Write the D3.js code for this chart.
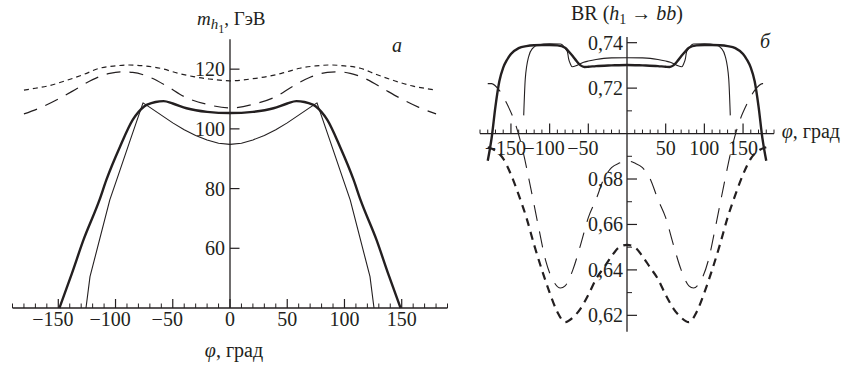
<!DOCTYPE html>
<html><head><meta charset="utf-8">
<script src="https://cdn.jsdelivr.net/npm/d3@7/dist/d3.min.js"></script>
<style>
body{margin:0;background:#fff}
svg{display:block}
text{fill:#231f20}
</style>
</head><body>
<svg id="chart" width="842" height="367" font-family="'Liberation Serif', Tinos, 'Times New Roman', Times, serif"></svg>
<script>
// ---------- data ----------
const phiTicksLeft = [-150,-100,-50,0,50,100,150];
const phiTicksRight = [-150,-100,-50,50,100,150];
const massTicks = [60,80,100,120];
const brTicks = [0.62,0.64,0.66,0.68,0.72,0.74];
const brMinorTicks = [0.63,0.65,0.67,0.69,0.71,0.73];

// panel a: m_h1 (GeV) vs phi
const massShortPhi = [-180,-170,-160,-143,-128,-114,-100,-88,-75,-61,-45,-32,-20,0,20,32,45,61,75,88,100,114,128,143,160,170,180];
const massShortVal = [113.0,113.6,114.3,116.2,118.2,120.3,121.1,121.4,121.1,120.3,118.6,117.5,116.8,116.1,116.8,117.5,118.6,120.3,121.1,121.4,121.1,120.3,118.2,116.2,114.3,113.6,113.0];

const massLongPhi = [-180,-165,-150,-135,-120,-105,-95,-85,-70,-55,-40,-20,0,20,40,55,70,85,95,105,120,135,150,165,180];
const massLongVal = [105.0,107.2,110.0,113.2,116.5,118.6,119.1,118.9,117.3,114.3,110.8,108.2,107.0,108.2,110.8,114.3,117.3,118.9,119.1,118.6,116.5,113.2,110.0,107.2,105.0];

const massThickPhi = [-149,-138,-128,-114,-108,-96,-85,-75,-65,-58,-50,-38,-20,0,20,38,50,58,65,75,85,96,108,114,128,138,149];
const massThickVal = [40,51.7,62.8,76.2,82.9,94.1,103.0,107.5,109.0,109.3,108.5,106.9,105.7,105.3,105.7,106.9,108.5,109.3,109.0,107.5,103.0,94.1,82.9,76.2,62.8,51.7,40];

const massThinPhi = [-125.8,-122.3,-105,-99,-88,-76,-70,-60,-50,-40,-30,-20,-10,0,10,20,30,40,50,60,70,76,88,99,105,122.3,125.8];
const massThinVal = [40,50.5,76.2,82.9,95.3,108.7,107.2,104.6,102.0,99.7,97.8,96.3,95.2,94.8,95.2,96.3,97.8,99.7,102.0,104.6,107.2,108.7,95.3,82.9,76.2,50.5,40];

// panel b: BR(h1 -> bb) vs phi
const brThickPhi = [-180,-175,-170,-165,-160,-155,-150,-140,-130,-120,-110,-100,-90,-80,-75,-70,-65,-60,-55,-50,-40,-20,0,20,40,50,55,60,65,70,75,80,90,100,110,120,130,140,150,155,160,165,170,175,180];
const brThickVal = [0.688,0.698,0.712,0.723,0.729,0.7325,0.735,0.7376,0.7385,0.7389,0.739,0.739,0.7388,0.7378,0.736,0.734,0.7318,0.730,0.7293,0.7294,0.7297,0.730,0.7302,0.730,0.7297,0.7294,0.7293,0.730,0.7318,0.734,0.736,0.7378,0.7388,0.739,0.739,0.7389,0.7385,0.7376,0.735,0.7325,0.729,0.723,0.712,0.698,0.688];

const brThinPhi = [-133.5,-131.5,-127,-122,-115,-100,-86,-82,-79,-77,-75.5,-73,-71,-66,-62,-56,-50,-40,-30,-20,0,20,30,40,50,56,62,66,71,73,75.5,77,79,82,86,100,115,122,127,131.5,133.5];
const brThinVal = [0.708,0.724,0.734,0.7375,0.739,0.7395,0.7394,0.7385,0.737,0.736,0.733,0.7305,0.7294,0.7298,0.7305,0.7314,0.7319,0.7326,0.7331,0.7333,0.7334,0.7333,0.7331,0.7326,0.7319,0.7314,0.7305,0.7298,0.7294,0.7305,0.733,0.736,0.737,0.7385,0.7394,0.7395,0.739,0.7375,0.734,0.724,0.708];

const brLongPhi = [-180,-175,-165,-155,-145,-135,-125,-115,-105,-95,-86,-80,-70,-60,-50,-40,-30,-20,-10,0,10,20,30,40,50,60,70,80,86,95,105,115,125,135,145,155,165,175,180];
const brLongVal = [0.722,0.722,0.719,0.713,0.705,0.693,0.677,0.660,0.644,0.635,0.632,0.633,0.640,0.651,0.663,0.671,0.680,0.685,0.687,0.688,0.687,0.685,0.680,0.671,0.663,0.651,0.640,0.633,0.632,0.635,0.644,0.660,0.677,0.693,0.705,0.713,0.719,0.722,0.722];

const brShortPhi = [-180,-170,-160,-150,-140,-130,-120,-110,-100,-90,-80,-70,-60,-50,-40,-30,-20,-10,0,10,20,30,40,50,60,70,80,90,100,110,120,130,140,150,160,170,180];
const brShortVal = [0.694,0.6925,0.689,0.682,0.673,0.663,0.651,0.640,0.630,0.6215,0.617,0.619,0.623,0.629,0.636,0.641,0.646,0.650,0.651,0.650,0.646,0.641,0.636,0.629,0.623,0.619,0.617,0.6215,0.630,0.640,0.651,0.663,0.673,0.682,0.689,0.6925,0.694];

// ---------- drawing ----------
const ink = "#231f20";
const svg = d3.select("#chart");
const zip = (p, v) => p.map((x, i) => [x, v[i]]);
const minusLabel = v => (v < 0 ? "\u2212" + Math.abs(v) : String(v));

// ----- panel a -----
const xL = d3.scaleLinear().domain([-190, 190]).range([12.5, 447.5]);
const yL = d3.scaleLinear().domain([40, 130]).range([308, 39.3]);
const gA = svg.append("g");

gA.append("line").attr("x1", xL(-190)).attr("x2", xL(190)).attr("y1", yL(40)).attr("y2", yL(40))
  .attr("stroke", ink).attr("stroke-width", 1.3);
gA.selectAll(".mxL").data(d3.range(-190, 191, 10).filter(v => v % 50 !== 0)).join("line")
  .attr("x1", d => xL(d)).attr("x2", d => xL(d)).attr("y1", yL(40)).attr("y2", yL(40) - 4.5)
  .attr("stroke", ink).attr("stroke-width", 1);
gA.selectAll(".MxL").data(phiTicksLeft).join("line")
  .attr("x1", d => xL(d)).attr("x2", d => xL(d)).attr("y1", yL(40)).attr("y2", yL(40) - 9)
  .attr("stroke", ink).attr("stroke-width", 1.2);
gA.selectAll(".txL").data(phiTicksLeft).join("text")
  .attr("x", d => xL(d) - (d < 0 ? 5.5 : 0)).attr("y", yL(40) + 17.5)
  .attr("text-anchor", "middle").attr("font-size", 20).text(minusLabel);

gA.append("line").attr("x1", xL(0)).attr("x2", xL(0)).attr("y1", yL(40)).attr("y2", yL(130))
  .attr("stroke", ink).attr("stroke-width", 1.3);
gA.selectAll(".MyL").data(massTicks).join("line")
  .attr("x1", xL(0)).attr("x2", xL(0) + 9.5).attr("y1", d => yL(d)).attr("y2", d => yL(d))
  .attr("stroke", ink).attr("stroke-width", 1.2);
gA.selectAll(".tyL").data(massTicks).join("text")
  .attr("x", xL(0) - 5).attr("y", d => yL(d)).attr("dy", "0.35em")
  .attr("text-anchor", "end").attr("font-size", 20).text(d => d);

const lineA = d3.line().x(d => xL(d[0])).y(d => yL(d[1])).curve(d3.curveMonotoneX);
const lineALin = d3.line().x(d => xL(d[0])).y(d => yL(d[1]));
gA.append("path").attr("d", lineA(zip(massShortPhi, massShortVal))).attr("fill", "none")
  .attr("stroke", ink).attr("stroke-width", 1.2).attr("stroke-dasharray", "5 4");
gA.append("path").attr("d", lineA(zip(massLongPhi, massLongVal))).attr("fill", "none")
  .attr("stroke", ink).attr("stroke-width", 1.2).attr("stroke-dasharray", "14 9");
gA.append("path").attr("d", lineA(zip(massThickPhi, massThickVal))).attr("fill", "none")
  .attr("stroke", ink).attr("stroke-width", 2.4);
gA.append("path").attr("d", lineALin(zip(massThinPhi, massThinVal))).attr("fill", "none")
  .attr("stroke", ink).attr("stroke-width", 1.1).attr("stroke-linejoin", "round");

const tA = gA.append("text").attr("x", 197).attr("y", 25).attr("font-size", 19);
tA.append("tspan").attr("font-style", "italic").text("m");
tA.append("tspan").attr("font-style", "italic").attr("font-size", 15).attr("dy", 4).text("h");
tA.append("tspan").attr("font-size", 12).attr("dy", 3.5).text("1");
tA.append("tspan").attr("dy", -7.5).text(", ГэВ");
gA.append("text").attr("x", 392).attr("y", 51.5).attr("font-size", 20).attr("font-style", "italic").text("а");
const xlA = gA.append("text").attr("x", xL(0) + 4).attr("y", 357).attr("text-anchor", "middle").attr("font-size", 20);
xlA.append("tspan").attr("font-style", "italic").text("φ");
xlA.append("tspan").text(", град");

// ----- panel b -----
const xR = d3.scaleLinear().domain([-190, 190]).range([480, 774]);
const yR = d3.scaleLinear().domain([0.6128, 0.7425]).range([331.7, 37]);
const gB = svg.append("g");

gB.append("line").attr("x1", xR(-190)).attr("x2", xR(190)).attr("y1", yR(0.70)).attr("y2", yR(0.70))
  .attr("stroke", ink).attr("stroke-width", 1.3);
gB.selectAll(".mxR").data(d3.range(-190, 191, 10).filter(v => v % 50 !== 0)).join("line")
  .attr("x1", d => xR(d)).attr("x2", d => xR(d)).attr("y1", yR(0.70)).attr("y2", yR(0.70) - 4)
  .attr("stroke", ink).attr("stroke-width", 1);
gB.selectAll(".MxR").data(phiTicksRight).join("line")
  .attr("x1", d => xR(d)).attr("x2", d => xR(d)).attr("y1", yR(0.70)).attr("y2", yR(0.70) - 10)
  .attr("stroke", ink).attr("stroke-width", 1.2);
gB.selectAll(".txR").data(phiTicksRight).join("text")
  .attr("x", d => xR(d) - (d < 0 ? 5.5 : 0)).attr("y", yR(0.70) + 21.5)
  .attr("text-anchor", "middle").attr("font-size", 20).text(minusLabel);

gB.append("line").attr("x1", xR(0)).attr("x2", xR(0)).attr("y1", yR(0.6128)).attr("y2", yR(0.7425))
  .attr("stroke", ink).attr("stroke-width", 1.3);
gB.selectAll(".myR").data(brMinorTicks).join("line")
  .attr("x1", xR(0)).attr("x2", xR(0) + 5).attr("y1", d => yR(d)).attr("y2", d => yR(d))
  .attr("stroke", ink).attr("stroke-width", 1);
gB.selectAll(".MyR").data(brTicks).join("line")
  .attr("x1", xR(0)).attr("x2", xR(0) + 10).attr("y1", d => yR(d)).attr("y2", d => yR(d))
  .attr("stroke", ink).attr("stroke-width", 1.2);
gB.selectAll(".tyR").data(brTicks).join("text")
  .attr("x", xR(0) - 4).attr("y", d => yR(d)).attr("dy", "0.35em")
  .attr("text-anchor", "end").attr("font-size", 20).text(d => d3.format(".2f")(d).replace(".", ","));

const lineB = d3.line().x(d => xR(d[0])).y(d => yR(d[1])).curve(d3.curveMonotoneX);
gB.append("path").attr("d", lineB(zip(brLongPhi, brLongVal))).attr("fill", "none")
  .attr("stroke", ink).attr("stroke-width", 1.1).attr("stroke-dasharray", "16 11");
gB.append("path").attr("d", lineB(zip(brShortPhi, brShortVal))).attr("fill", "none")
  .attr("stroke", ink).attr("stroke-width", 2.2).attr("stroke-dasharray", "8 6");
gB.append("path").attr("d", lineB(zip(brThinPhi, brThinVal))).attr("fill", "none")
  .attr("stroke", ink).attr("stroke-width", 1.1);
gB.append("path").attr("d", lineB(zip(brThickPhi, brThickVal))).attr("fill", "none")
  .attr("stroke", ink).attr("stroke-width", 2.4);

const tB = gB.append("text").attr("x", xR(0)).attr("y", 20).attr("text-anchor", "middle").attr("font-size", 20);
tB.append("tspan").text("BR (");
tB.append("tspan").attr("font-style", "italic").text("h");
tB.append("tspan").attr("font-size", 14).attr("dy", 4).text("1");
tB.append("tspan").attr("dy", -4).text(" → ");
tB.append("tspan").attr("font-style", "italic").text("bb");
tB.append("tspan").text(")");
gB.append("text").attr("x", 760).attr("y", 48).attr("font-size", 20).attr("font-style", "italic").text("б");
const xlB = gB.append("text").attr("x", 840).attr("y", yR(0.70) + 4).attr("text-anchor", "end").attr("font-size", 20);
xlB.append("tspan").attr("font-style", "italic").text("φ");
xlB.append("tspan").text(", град");
</script>
</body></html>
